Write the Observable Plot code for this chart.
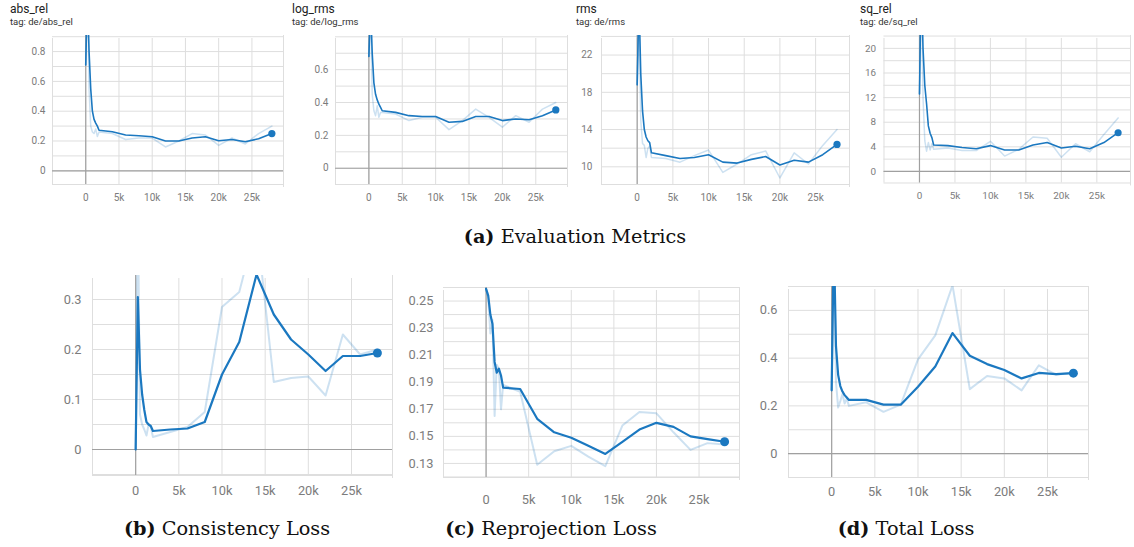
<!DOCTYPE html>
<html>
<head>
<meta charset="utf-8">
<script src="https://cdn.jsdelivr.net/npm/d3@7"></script>
<script src="https://cdn.jsdelivr.net/npm/@observablehq/plot@0.6"></script>
<style>
  html, body { margin: 0; padding: 0; background: #fff; }
  #root { position: relative; width: 1134px; height: 547px; overflow: hidden; font-family: Roboto, sans-serif; }
  .panel { position: absolute; }
  .ttl { position: absolute; font-family: Roboto, sans-serif; color: #212121; white-space: nowrap; }
  .ttl .name { font-size: 12px; line-height: 13px; }
  .ttl .tag { font-size: 9.5px; line-height: 11px; color: #333; }
  .cap { position: absolute; font-family: "DejaVu Serif", serif; font-size: 19.3px; color: #111; white-space: nowrap; transform: translateX(-50%); line-height: 22px; }
</style>
</head>
<body>
<div id="root"></div>
<script>
// ---------------- data ----------------
const STEPS = [0, 250, 500, 750, 1000, 1250, 1500, 1750, 2000, 4000, 6000, 8000, 10000, 12000, 14000, 16000, 18000, 20000, 22000, 24000, 26000, 28000];
const X_TICKS = [0, 5000, 10000, 15000, 20000, 25000];
const X_GRID = [-5000, 0, 5000, 10000, 15000, 20000, 25000];

const absRelSmooth = [0.71, 1.20, 0.80, 0.55, 0.40, 0.345, 0.32, 0.30, 0.272, 0.262, 0.24, 0.235, 0.228, 0.20, 0.20, 0.22, 0.228, 0.202, 0.21, 0.195, 0.215, 0.25];
const absRelRaw    = [0.71, 1.30, 0.55, 0.30, 0.26, 0.25, 0.28, 0.23, 0.26, 0.25, 0.21, 0.22, 0.22, 0.16, 0.20, 0.25, 0.24, 0.17, 0.22, 0.18, 0.25, 0.30];

const logRmsSmooth = [0.68, 1.00, 0.70, 0.52, 0.45, 0.416, 0.39, 0.37, 0.35, 0.34, 0.32, 0.315, 0.315, 0.28, 0.285, 0.315, 0.315, 0.29, 0.30, 0.295, 0.32, 0.355];
const logRmsRaw    = [0.68, 0.95, 0.45, 0.35, 0.32, 0.38, 0.31, 0.34, 0.34, 0.33, 0.29, 0.31, 0.31, 0.235, 0.29, 0.36, 0.31, 0.25, 0.32, 0.28, 0.36, 0.40];

const rmsSmooth = [18.8, 28.0, 20.0, 16.0, 14.0, 13.2, 12.8, 12.6, 11.5, 11.2, 10.9, 11.0, 11.3, 10.5, 10.4, 10.8, 11.1, 10.2, 10.7, 10.5, 11.3, 12.4];
const rmsRaw    = [18.8, 26.0, 15.0, 12.5, 12.3, 11.0, 12.0, 12.2, 11.0, 10.9, 10.5, 11.2, 11.8, 9.4, 10.3, 11.3, 11.7, 8.8, 11.5, 10.3, 12.3, 14.0];

const sqRelSmooth = [12.6, 32.0, 20.0, 14.0, 11.0, 7.4, 6.2, 5.5, 4.3, 4.2, 3.9, 3.7, 4.2, 3.5, 3.5, 4.3, 4.7, 3.8, 4.1, 3.7, 4.7, 6.3];
const sqRelRaw    = [12.6, 30.0, 12.0, 5.0, 3.3, 4.7, 3.5, 4.5, 3.6, 3.8, 3.4, 3.4, 4.9, 2.5, 3.6, 5.6, 5.4, 2.3, 4.5, 3.2, 6.0, 8.7];

const consSmooth = [0.0, 0.305, 0.16, 0.11, 0.079, 0.055, 0.05, 0.047, 0.037, 0.040, 0.042, 0.055, 0.15, 0.215, 0.35, 0.27, 0.22, 0.19, 0.157, 0.187, 0.187, 0.193];
const consRaw    = [0.0, 0.50, 0.07, 0.05, 0.04, 0.028, 0.05, 0.045, 0.025, 0.035, 0.045, 0.075, 0.285, 0.315, 0.45, 0.135, 0.143, 0.146, 0.108, 0.23, 0.19, 0.20];

const reprojSmooth = [0.259, 0.254, 0.240, 0.233, 0.205, 0.197, 0.200, 0.195, 0.186, 0.185, 0.163, 0.153, 0.149, 0.143, 0.137, 0.146, 0.155, 0.160, 0.157, 0.150, 0.148, 0.146];
const reprojRaw    = [0.259, 0.252, 0.226, 0.236, 0.165, 0.203, 0.200, 0.170, 0.188, 0.183, 0.129, 0.139, 0.143, 0.135, 0.128, 0.158, 0.168, 0.167, 0.153, 0.140, 0.145, 0.144];

const totalSmooth = [0.265, 0.90, 0.45, 0.33, 0.283, 0.26, 0.245, 0.235, 0.225, 0.225, 0.205, 0.205, 0.28, 0.365, 0.505, 0.41, 0.375, 0.35, 0.315, 0.338, 0.333, 0.337];
const totalRaw    = [0.265, 0.95, 0.30, 0.193, 0.22, 0.25, 0.21, 0.23, 0.20, 0.215, 0.175, 0.205, 0.395, 0.495, 0.705, 0.27, 0.325, 0.315, 0.265, 0.37, 0.33, 0.34];

const yTicksAbsRel = [0, 0.2, 0.4, 0.6, 0.8];
const yTicksLogRms = [0, 0.2, 0.4, 0.6];
const yTicksRms = [10, 14, 18, 22];
const yTicksSqRel = [0, 4, 8, 12, 16, 20];
const yTicksCons = [0, 0.1, 0.2, 0.3];
const yTicksReproj = [0.13, 0.15, 0.17, 0.19, 0.21, 0.23, 0.25];
const yTicksTotal = [0, 0.2, 0.4, 0.6];

const titles = ["abs_rel", "log_rms", "rms", "sq_rel"];
const tags = ["tag: de/abs_rel", "tag: de/log_rms", "tag: de/rms", "tag: de/sq_rel"];
const captionLetters = ["(a)", "(b)", "(c)", "(d)"];
const captionTexts = ["Evaluation Metrics", "Consistency Loss", "Reprojection Loss", "Total Loss"];

// ---------------- drawing ----------------
const DARK = "#1b78c0";
const GRID = "#dedede";
const AXIS = "#a0a0a0";
const TICK_TEXT = "#7c7c7c";
const root = document.getElementById("root");

function range(a, b, s) { const out = []; for (let v = a; v <= b + 1e-9; v += s) out.push(+v.toFixed(6)); return out; }

function panel(cfg) {
  const mL = 50, mR = 4, mT = 4, mB = 32;
  const w = cfg.right - cfg.left + mL + mR;
  const h = cfg.bottom - cfg.top + mT + mB;
  const data = STEPS.map((s, i) => ({step: s, raw: cfg.raw[i], smooth: cfg.smooth[i]}));
  const last = data[data.length - 1];
  const xdom = [-5000, 29750];
  const gridY = range(cfg.gridStart, cfg.ydom[1], cfg.gridStep).filter(v => v >= cfg.ydom[0]);
  const marks = [
    Plot.ruleY(gridY, {stroke: GRID, strokeWidth: 1}),
    Plot.ruleY([cfg.ydom[0]], {stroke: GRID, strokeWidth: 1}),
    Plot.ruleX(X_GRID, {stroke: GRID, strokeWidth: 1, y1: cfg.ydom[0], y2: cfg.ydom[1], insetBottom: -3}),
    Plot.ruleX([xdom[1]], {stroke: GRID, strokeWidth: 1, insetBottom: -3}),
  ];
  if (cfg.ydom[0] < 0) marks.push(Plot.ruleY([0], {stroke: AXIS, strokeWidth: 1.2}));
  marks.push(
    Plot.ruleX([0], {stroke: AXIS, strokeWidth: 1.2}),
    Plot.line(data, {x: "step", y: "raw", stroke: DARK, strokeOpacity: 0.22, strokeWidth: cfg.big ? 2 : 1.5, clip: true}),
    Plot.line(data, {x: "step", y: "smooth", stroke: DARK, strokeWidth: cfg.big ? 2.2 : 1.6, clip: true}),
    Plot.dot([last], {x: "step", y: "smooth", r: cfg.big ? 4.5 : 3.6, fill: DARK, stroke: "none"}),
    Plot.axisX({ticks: X_TICKS, tickSize: 0, tickPadding: cfg.xpad, label: null, fill: TICK_TEXT,
      tickFormat: d => d === 0 ? "0" : (d / 1000) + "k"}),
    Plot.axisY({ticks: cfg.yticks, tickSize: 0, tickPadding: cfg.ypad, label: null, fill: TICK_TEXT,
      tickFormat: d => String(+d.toFixed(2))})
  );
  const svg = Plot.plot({
    width: w, height: h, marginLeft: mL, marginRight: mR, marginTop: mT, marginBottom: mB,
    style: {fontFamily: "Roboto, sans-serif", fontSize: cfg.big ? "12.8px" : "10px", background: "transparent", overflow: "visible"},
    x: {domain: xdom},
    y: {domain: cfg.ydom},
    marks
  });
  const div = document.createElement("div");
  div.className = "panel";
  div.style.left = (cfg.left - mL) + "px";
  div.style.top = (cfg.top - mT) + "px";
  div.appendChild(svg);
  root.appendChild(div);
}

const panels = [
  {left: 52, right: 283, top: 35, bottom: 184, ydom: [-0.092, 0.908], gridStart: -0.0, gridStep: 0.1, yticks: yTicksAbsRel, raw: absRelRaw, smooth: absRelSmooth, xpad: 9, ypad: 7},
  {left: 335, right: 567, top: 35, bottom: 184, ydom: [-0.099, 0.808], gridStart: 0, gridStep: 0.1, yticks: yTicksLogRms, raw: logRmsRaw, smooth: logRmsSmooth, xpad: 9, ypad: 7},
  {left: 601, right: 849, top: 35, bottom: 184, ydom: [8.1, 24.1], gridStart: 10, gridStep: 2, yticks: yTicksRms, raw: rmsRaw, smooth: rmsSmooth, xpad: 9, ypad: 9},
  {left: 884, right: 1133, top: 35, bottom: 184, ydom: [-1.87, 22.1], gridStart: 0, gridStep: 2, yticks: yTicksSqRel, raw: sqRelRaw, smooth: sqRelSmooth, xpad: 9, ypad: 8},
  {left: 92, right: 392, top: 275, bottom: 475, ydom: [-0.052, 0.348], gridStart: 0, gridStep: 0.05, yticks: yTicksCons, raw: consRaw, smooth: consSmooth, xpad: 10, ypad: 11, big: true},
  {left: 443, right: 739, top: 287, bottom: 477, ydom: [0.1196, 0.26], gridStart: 0.12, gridStep: 0.01, yticks: yTicksReproj, raw: reprojRaw, smooth: reprojSmooth, xpad: 17, ypad: 10, big: true},
  {left: 788, right: 1088, top: 286, bottom: 477, ydom: [-0.1, 0.7], gridStart: 0, gridStep: 0.1, yticks: yTicksTotal, raw: totalRaw, smooth: totalSmooth, xpad: 9, ypad: 11, big: true},
];
// add negative grid lines below zero
panels.forEach(p => { if (p.ydom[0] < 0) p.gridStart = -Math.floor(-p.ydom[0] / p.gridStep) * p.gridStep; });
panels.forEach(panel);

// titles of top row
const titleX = [10, 292, 576, 860];
titles.forEach((t, i) => {
  const d = document.createElement("div");
  d.className = "ttl";
  d.style.left = titleX[i] + "px";
  d.style.top = "3px";
  d.innerHTML = `<div class="name">${t}</div><div class="tag">${tags[i]}</div>`;
  root.appendChild(d);
});

// captions
const capPos = [[575, 226], [227, 518], [551, 518], [906, 518]];
captionLetters.forEach((l, i) => {
  const d = document.createElement("div");
  d.className = "cap";
  d.style.left = capPos[i][0] + "px";
  d.style.top = capPos[i][1] + "px";
  d.innerHTML = `<b>${l}</b> ${captionTexts[i]}`;
  root.appendChild(d);
});
</script>
</body>
</html>
